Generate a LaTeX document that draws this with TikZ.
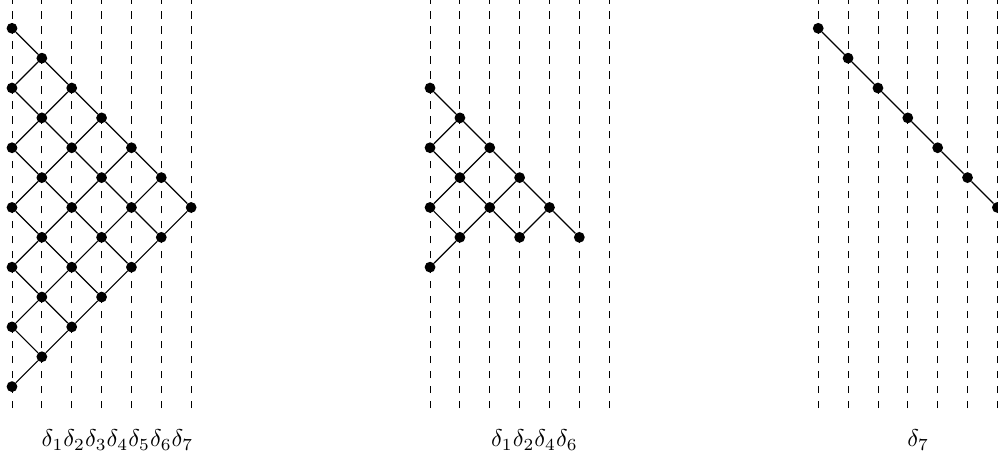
\documentclass[tikz,border=0pt]{standalone}
\tikzset{
  dot/.style={circle,fill=black,inner sep=0pt,minimum size=0.36cm},
  edge/.style={line width=1.1pt},
  guide/.style={line width=0.8pt,dash pattern=on 7.1pt off 7.1pt},
  lab/.style={anchor=base west,inner sep=0pt,scale=2.3,transform shape}
}
\begin{document}
\begin{tikzpicture}
\useasboundingbox (0,0) rectangle (33.2667,-15.3667);
\begin{scope}[shift={(0.4,-0.9433)},x=0.99533cm,y=-0.99533cm]
  % guide lines
  \foreach \c in {0,1,2,3,4,5,6,14,15,16,17,18,19,20,27,28,29,30,31,32,33}
    \draw[guide] (\c,12.716) -- (\c,-0.948);
  % left panel
  \foreach \p in {0,...,6}
    \foreach \q in {0,...,\p}
      \node[dot] (L-\p-\q) at ({\p-\q},{\p+\q}) {};
  \foreach \p in {0,...,5}{
    \pgfmathtruncatemacro\np{\p+1}
    \foreach \q in {0,...,\p}
      \draw[edge] (L-\p-\q) -- (L-\np-\q);
  }
  \foreach \p in {1,...,6}
    \foreach \q in {1,...,\p}{
      \pgfmathtruncatemacro\qm{\q-1}
      \draw[edge] (L-\p-\qm) -- (L-\p-\q);
    }
  % middle panel
  \foreach \n/\cx/\ry in {1/0/2,2/1/3,3/0/4,4/2/4,5/1/5,6/3/5,7/0/6,8/2/6,9/4/6,10/1/7,11/3/7,12/5/7,13/0/8}
    \node[dot] (M\n) at ({14+\cx},\ry) {};
  \foreach \a/\b in {1/2,2/3,2/4,3/5,4/5,4/6,5/7,5/8,6/8,6/9,7/10,8/10,8/11,9/11,9/12,10/13}
    \draw[edge] (M\a) -- (M\b);
  % right panel
  \foreach \k in {0,...,6}
    \node[dot] (R\k) at ({27+\k},\k) {};
  \foreach \a/\b in {0/1,1/2,2/3,3/4,4/5,5/6}
    \draw[edge] (R\a) -- (R\b);
  % labels
  \node[lab] (labL) at (0.98,14.02) {$\delta_1\delta_2\delta_3\delta_4\delta_5\delta_6\delta_7$};
  \node[lab] (labM) at (16.03,14.02) {$\delta_1\delta_2\delta_4\delta_6$};
  \node[lab] (labR) at (29.97,14.02) {$\delta_7$};
\end{scope}
\end{tikzpicture}
\end{document}
